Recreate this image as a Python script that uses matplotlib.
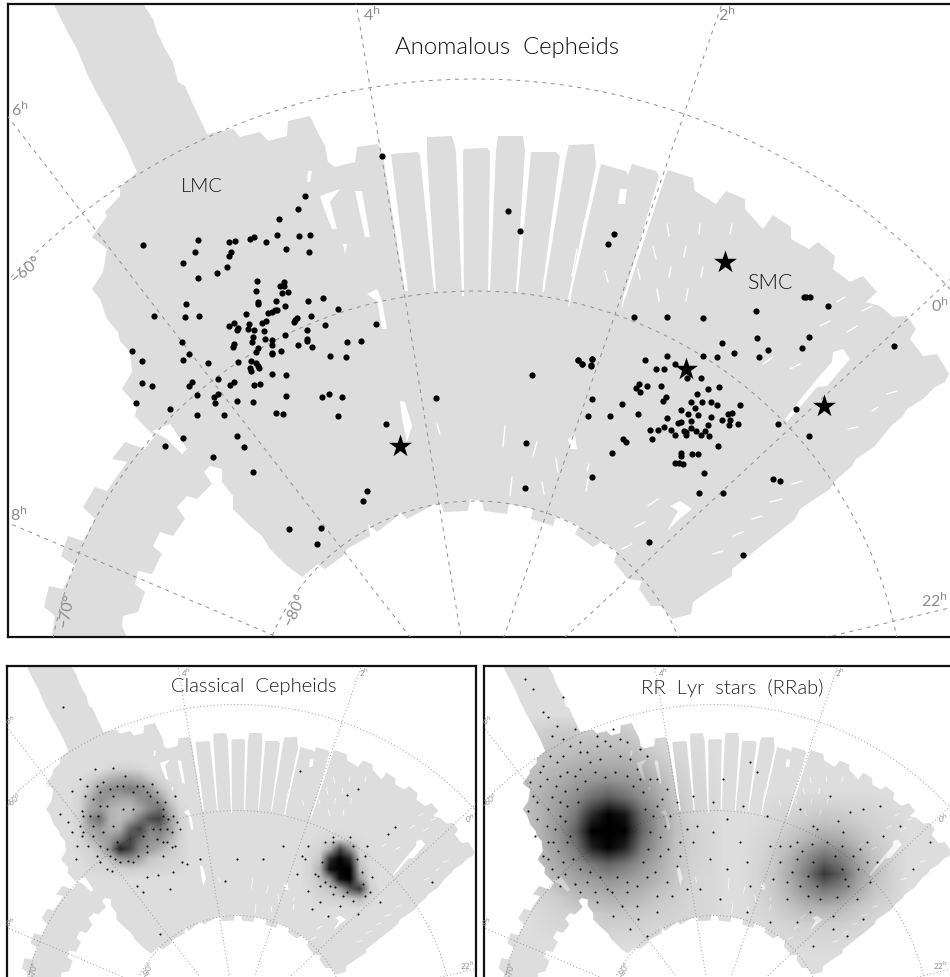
import numpy as np
import matplotlib
matplotlib.use("Agg")
import matplotlib.pyplot as plt
from matplotlib.colors import LinearSegmentedColormap
from matplotlib.patches import Polygon

W, H = 950, 978
FONT = "Lato"

# ---------- sky grid (in top-panel pixel units) ----------
POLE = (475, 722)
RA_LABELS = ["8$^{\\mathrm{h}}$", "6$^{\\mathrm{h}}$", "4$^{\\mathrm{h}}$", "2$^{\\mathrm{h}}$", "0$^{\\mathrm{h}}$", "22$^{\\mathrm{h}}$"]
RA_ANGLES = [-67, -37.7, -9.4, 19, 47.1, 76.6]
RA_LABEL_X = [19, 20, 372, 727, 940, 934]
RA_LABEL_Y = [515, 110, 15, 15, 306, 601]
DEC_RADII = [220, 430, 642]
DEC_LABELS = ["\u221280\u00b0", "\u221270\u00b0", "\u221260\u00b0"]
DEC_LABEL_X = [295, 67, 26]
DEC_LABEL_Y = [610, 610, 270]
DEC_LABEL_ROT = [65, 80, 40]

# ---------- survey footprint outline ----------
FOOT = [(55,0),(140,0),(153,20),(157,33),(165,50),(173,63),(178,83),(185,87),(192,103),(200,120),(207,135),
(233,130),(240,138),(260,133),(268,142),(287,137),(288,122),(310,117),(317,132),(325,147),(328,163),(335,168),
(355,163),(357,148),(378,145),(383,157),(405,292),(408,292),(391,155),(418,153),(420,157),(434,292),(436,292),
(427,157),(427,138),(452,137),(455,148),(456,152),(462,297),(464,297),(463,152),(464,150),(487,149),(490,152),
(488,292),(490,292),(496,152),(498,137),(523,137),(525,152),(516,293),(518,293),(531,153),(556,153),(560,157),
(542,293),(544,293),(566,158),(569,146),(594,145),(596,167),(568,300),(570,300),(601,165),(626,172),(628,176),
(632,165),(656,172),(659,177),(623,300),(625,300),(665,178),(668,171),(693,179),(695,192),(716,205),(726,192),
(745,200),(745,210),(763,230),(773,216),(791,228),(791,240),(809,250),(818,243),(835,257),(833,270),(850,283),
(863,277),(877,293),(866,303),(880,307),(893,318),(907,317),(916,330),(910,340),(923,357),(937,355),(949,375),
(945,383),(935,388),(923,400),(907,410),(903,417),(891,427),(875,447),(856,460),(852,467),(837,480),(830,490),
(800,510),(795,520),(779,533),(761,547),(732,570),(732,577),(716,587),(693,603),(691,615),(672,620),(661,607),
(651,607),(639,590),(642,582),(628,580),(614,563),(617,553),(603,542),(593,548),(575,535),(579,527),(556,517),
(553,527),(531,520),(533,510),(509,505),(507,515),(484,512),(482,502),(470,500),(468,512),(444,513),(441,505),
(435,505),(407,520),(400,513),(398,517),(377,533),(368,525),(370,537),(347,550),(343,557),(325,570),(318,565),
(302,578),(287,567),(270,550),(262,537),(250,527),(233,510),(233,497),(222,483),(222,470),(210,467),(204,473),
(212,485),(197,500),(187,497),(177,508),(185,520),(173,537),(160,533),(153,547),(162,555),(152,575),(138,572),
(135,585),(145,593),(138,613),(123,617),(122,627),(132,650),(50,650),(52,637),(55,617),(44,608),(49,587),(63,590),
(75,567),(61,557),(68,537),(83,542),(95,520),(83,508),(95,488),(107,492),(127,463),(112,460),(125,443),(145,450),
(155,437),(147,430),(135,417),(137,407),(122,390),(132,373),(130,353),(120,342),(118,333),(107,320),(100,300),
(92,290),(103,273),(107,250),(92,238),(107,217),(105,213),(120,197),(120,188),(137,173),(127,150),(113,123),
(100,100),(88,77),(77,50),(67,32),(55,8)]

# ---------- white holes in the footprint ----------
HOLES = [
 [(320,197),(340,190),(330,203),(337,230),(332,230),(323,207)],
 [(355,192),(362,192),(370,238),(365,238)],
 [(308,172),(312,172),(310,183),(307,183)],
 [(343,245),(347,245),(345,255)],
 [(367,295),(377,290),(382,302),(387,330),(382,330),(377,302)],
 [(400,402),(405,403),(412,427),(407,443),(402,420)],
 [(152,432),(170,425),(187,450),(182,455),(167,440)],
 [(833,353),(843,350),(850,360),(827,387),(817,388),(800,408),(787,423),(785,420),(803,397),(817,380),(832,363)],
 [(670,507),(680,502),(692,510),(677,522),(667,532),(678,512)],
 [(568,440),(575,437),(577,450),(570,450)],
 [(620,190),(627,190),(625,205),(618,205)],
]
# short white streaks (x0, y0, x1, y1)
STREAKS = [
 (667,225,669,237),(653,247,656,260),(686,247,684,258),(605,272,608,283),(638,270,640,280),(671,268,669,278),
 (703,268,701,278),(657,290,659,302),(688,290,686,302),(700,225,699,235),(732,225,730,235),(625,293,622,308),
 (585,220,581,243),(577,250,572,277),(572,283,569,307),(763,365,773,358),(790,370,800,365),(820,327,830,322),
 (847,333,857,327),(837,303,845,298),(862,312,872,307),(887,395,897,392),(848,430,858,428),(872,412,878,408),
 (792,485,802,482),(770,503,782,500),(752,520,762,517),(733,537,743,533),(713,555,723,552),(648,507,658,500),
 (635,528,645,523),(622,550,632,545),(505,427,503,448),(537,443,533,457),(512,478,510,497),(556,460,558,473),
 (542,483,544,495),(572,437,575,450),(437,425,440,435),(588,480,586,492),(589,465,587,472),
]

# ---------- Anomalous Cepheids ----------
# LMC side: crop units, x = 90 + X/3, y = 170 + Y/3
ACEP_LMC_CROP = [(160,229),(325,212),(314,250),(280,283),(325,327),(416,220),(434,215),(423,250),(416,260),(410,293),
(381,312),(481,210),(492,203),(528,218),(561,197),(567,150),(624,121),(645,82),(628,200),(659,198),(589,240),(658,250),
(501,336),(582,340),(571,352),(581,350),(497,366),(575,371),(593,368),(503,398),(504,406),(557,396),(586,412),(653,396),
(698,388),(743,419),(288,405),(285,445),(326,442),(191,441),(467,436),(534,433),(546,428),(555,423),(561,424),(663,441),
(620,447),(615,453),(611,460),(704,469),(859,466),(527,455),(517,463),(431,461),(416,472),(445,477),(440,484),(477,465),
(473,480),(493,484),(523,487),(651,483),(585,498),(490,505),(525,510),(547,512),(487,520),(651,510),(651,515),(771,520),
(813,517),(277,518),(431,525),(429,533),(545,529),(623,527),(667,533),(503,537),(497,550),(545,551),(547,555),(573,547),
(127,546),(296,554),(721,560),(767,565),(279,573),(156,577),(355,581),(445,580),(484,576),(498,583),(505,590),(506,596),
(481,597),(482,607),(546,615),(588,618),(384,630),(307,638),(297,650),(157,642),(187,652),(433,640),(421,648),(493,649),
(510,646),(321,679),(383,676),(373,685),(374,702),(441,696),(488,699),(589,681),(697,683),(718,675),(756,685),(137,702),
(240,719),(321,739),(402,737),(558,733),(579,736),(744,740),(888,765),(278,808),(224,831),(442,802),(463,835),(370,864)]
# SMC side: crop units, x = 560 + X/3, y = 220 + Y/3
ACEP_SMC_CROP = [(161,44),(145,76),(738,233),(750,233),(733,235),(805,261),(588,275),(222,295),(320,293),(428,296),(487,371),
(592,357),(748,355),(727,386),(624,392),(597,413),(521,403),(472,414),(428,411),(321,411),(254,424),(53,424),(66,436),
(97,420),(93,439),(344,434),(288,450),(313,450),(382,478),(422,478),(236,495),(228,506),(241,518),(262,502),(302,500),
(443,510),(478,503),(411,525),(318,534),(309,546),(95,541),(185,554),(393,550),(427,549),(452,550),(472,558),(539,557),
(406,566),(364,572),(85,591),(150,590),(234,584),(385,584),(415,587),(454,595),(517,582),(505,586),(322,597),(485,603),
(511,604),(507,618),(535,615),(392,605),(362,610),(354,612),(445,618),(313,623),(269,634),(293,634),(333,632),(394,628),
(407,635),(372,636),(377,640),(379,647),(345,649),(435,637),(423,648),(448,652),(275,660),(188,661),(198,668),(473,681),
(156,702),(364,703),(363,710),(396,704),(414,705),(345,731),(357,731),(369,735),(95,775),(432,761),(416,822),(489,821),
(640,780),(660,786),(748,650),(653,614),(708,570),(266,968),(550,1009),(1002,381)]
# remaining points, panel units
ACEP_OTHER_X = [382, 253, 367, 363, 289, 321, 317, 436, 532, 526, 525, 508, 520, 578, 582, 592, 591]
ACEP_OTHER_Y = [157, 473, 492, 502, 530, 529, 545, 399, 376, 444, 489, 212, 232, 361, 365, 360, 367]
STAR_X = [725, 686, 824, 400]
STAR_Y = [263, 370, 407, 447]

# ---------- density (0 = none, 1 = solid black) ----------
# Classical Cepheids, crop units of the lower-left panel
CC_LMC_X = [240,270,300,330,360,390,420,450,480,510,540]
CC_LMC_Y = [420,450,480,510,540,570,600,630,660,690,720]
CC_LMC = [
 [0,0,0,.03,.05,.05,.03,0,0,0,0],
 [0,.05,.12,.2,.25,.25,.2,.1,.03,0,0],
 [.03,.12,.3,.38,.4,.45,.4,.3,.12,.03,0],
 [.05,.2,.35,.3,.25,.25,.35,.4,.3,.08,0],
 [.05,.25,.3,.2,.15,.15,.25,.4,.5,.2,.03],
 [.06,.35,.5,.2,.15,.25,.45,.65,.7,.3,.05],
 [.05,.25,.3,.2,.22,.55,.7,.4,.45,.3,.05],
 [.03,.15,.25,.3,.45,.7,.5,.35,.35,.2,.05],
 [.02,.05,.15,.35,.85,.7,.4,.3,.2,.1,.04],
 [0,.03,.06,.12,.3,.35,.25,.1,.06,.05,.04],
 [0,.02,.03,.04,.05,.08,.06,.05,.04,.03,.02]]
CC_SMC_X = [930,960,990,1020,1050,1080,1110]
CC_SMC_Y = [630,660,690,720,750,780,810]
CC_SMC = [
 [0,.02,.03,.03,.02,.01,0],
 [.02,.05,.2,.7,.35,.03,.01],
 [.03,.1,.8,1,.8,.08,.01],
 [.04,.2,.95,1,1,.15,.02],
 [.03,.12,.35,.95,1,.3,.03],
 [.02,.06,.1,.25,.6,.75,.08],
 [0,.03,.05,.06,.1,.15,.03]]
CC_SPARSE = [(190,235),(285,420),(340,418),(375,440),(215,485),(240,450),(260,470),(455,465),(470,490),(495,520),(525,500),
(520,560),(540,600),(525,650),(515,655),(560,705),(545,700),(520,730),(475,738),(440,745),(410,770),(335,725),(320,720),
(345,690),(300,700),(228,690),(230,650),(215,610),(205,580),(180,555),(245,545),(240,590),(250,610),(510,780),(430,790),
(480,915),(600,690),(710,690),(790,690),(850,650),(675,755),(900,425),(1075,480),(1040,497),(925,650),(915,690),(890,735),
(925,785),(935,840),(985,860),(1075,855),(1140,820),(1100,650),(1185,595),(1165,615),(1110,790),(1295,760),(960,820),
(1020,830),(1060,815),(1000,795),(960,770),(975,640),(1000,625),(1050,625),(1095,680),(1115,745),(905,680),(945,735),
(990,770),(290,470),(310,460),(350,470),(400,490),(430,470),(450,500),(490,560),(500,600),(470,630),(490,640),(440,670),
(400,700),(360,700),(320,660),(280,620),(270,560),(280,510),(300,530),(340,590),(370,540),(400,540),(310,610),(350,640),
(430,620),(460,600),(300,490),(330,480),(370,470),(410,470),(440,490),(470,520),(490,540),(505,570),(480,600),(440,650),
(415,680),(385,695),(330,680),(300,650),(280,590),(295,560),(320,530),(340,500),(250,560),(255,500),(245,620),(265,650),
(290,680),(500,640),(490,680),(515,610),(530,580),(1000,640),(965,700),(955,740),(975,760),(1005,775),(1040,790),
(1090,765),(1085,730),(1070,690),(1060,650),(1095,800),(1030,800)]

# RR Lyr stars, crop units of the lower-right panel
RR_LMC_X = [135,185,235,285,335,385,435,485,535,585,635,685]
RR_LMC_Y = [305,355,405,455,505,555,605,655,705,755,805,855,905]
RR_LMC = [
 [.04,.06,.08,.08,.08,.09,.08,.06,.03,.01,0,0],
 [.07,.1,.12,.13,.15,.15,.14,.1,.05,.02,.01,.01],
 [.1,.14,.16,.2,.22,.22,.22,.18,.1,.05,.02,.01],
 [.14,.17,.22,.28,.32,.35,.32,.28,.18,.08,.03,.02],
 [.14,.2,.28,.36,.5,.6,.5,.36,.24,.1,.04,.02],
 [.12,.2,.3,.45,.8,1,.9,.5,.3,.13,.05,.02],
 [.1,.2,.33,.55,1,1,1,.55,.3,.14,.06,.03],
 [.06,.18,.3,.45,.85,1,.85,.45,.28,.13,.06,.03],
 [.04,.15,.25,.33,.45,.55,.45,.33,.22,.12,.05,.03],
 [.02,.08,.18,.24,.28,.32,.28,.24,.18,.1,.04,.02],
 [0,.04,.08,.14,.18,.2,.2,.16,.1,.07,.03,.02],
 [0,.02,.04,.06,.08,.1,.1,.08,.06,.05,.03,.02],
 [0,.01,.02,.03,.05,.05,.04,.04,.03,.03,.02,.02]]
RR_SMC_X = [830,880,930,980,1030,1080,1130,1180,1230]
RR_SMC_Y = [535,585,635,685,735,785,835,885,935]
RR_SMC = [
 [0,.02,.03,.05,.06,.05,.04,.03,.01],
 [.01,.03,.06,.1,.13,.12,.08,.05,.03],
 [.02,.06,.12,.2,.26,.24,.16,.08,.04],
 [.03,.09,.2,.36,.5,.42,.26,.12,.05],
 [.04,.1,.24,.45,.75,.58,.3,.14,.06],
 [.03,.09,.2,.34,.45,.38,.24,.11,.05],
 [.02,.06,.12,.18,.2,.18,.1,.06,.03],
 [.01,.03,.05,.06,.06,.06,.05,.03,.01],
 [0,.01,.02,.02,.03,.02,.02,.01,0]]
RR_SPARSE = [(160,180),(205,265),(215,320),(250,205),(135,150),(190,250),(230,290),(285,300),(350,320),(400,300),(440,340),
(320,370),(270,350),(230,400),(190,410),(150,460),(180,470),(240,440),(300,420),(360,390),(420,380),(470,420),(500,380),
(530,450),(560,480),(590,520),(620,600),(640,640),(600,640),(570,560),(545,510),(145,545),(170,520),(200,590),(190,680),
(220,640),(240,560),(250,700),(270,620),(295,520),(290,480),(240,770),(300,790),(350,820),(400,860),(450,900),(470,830),
(530,800),(560,760),(590,710),(620,780),(500,920),(380,780),(440,760),(330,730),(650,590),(700,610),(740,570),(780,640),
(690,690),(740,720),(800,700),(660,780),(720,810),(810,770),(870,650),(860,560),(790,530),(700,520),(640,500),(830,430),
(730,450),(810,400),(1000,590),(1090,610),(1160,640),(1190,700),(1110,550),(950,640),(900,700),(880,750),(920,810),
(990,850),(1060,860),(1130,810),(1170,760),(1210,620),(1050,500),(960,540),(1150,540),(1200,530),(1060,900),(1000,950),
(1100,920),(950,880),(1150,870),(870,880),(800,850),(1300,720),(1350,640),(1260,590),
(200,450),(215,505),(228,470),(255,485),(262,530),(240,520),(205,540),(255,575),(225,600),(262,640),(235,665),(205,640),
(280,690),(255,735),(215,720),(300,720),(320,760),(285,765),(360,745),(410,745),(395,790),(440,790),(470,770),(500,745),
(490,700),(525,730),(540,680),(505,660),(565,660),(540,625),(510,610),(555,590),(520,560),(495,540),(530,530),(490,490),
(460,470),(510,450),(480,450),(440,440),(405,430),(375,445),(345,430),(315,455),(285,440),(260,430),(330,400),(390,350),
(350,350),(300,370),(250,380),(210,380),(450,390),(480,360),(420,330),(375,335),(300,340),(250,330),(180,430),(160,500),
(170,570),(165,620),(205,690),(235,745),(345,790),(425,830),(475,870),(530,850),(575,800),(600,680),
(950,690),(935,730),(960,770),(985,800),(1020,810),(1070,805),(1105,770),(1135,720),(1120,680),(1085,650),(1040,640),
(995,645),(965,665),(920,760),(1000,700),(985,740),(1010,770),(1085,720),(1095,750),(1065,680),(1160,700),(1140,660),
(1010,600),(1075,575),(930,650),(900,650)]

DARK = LinearSegmentedColormap.from_list("dark", [(0, 0, 0, 0), (0, 0, 0, 1)])


def make_axes(fig, left, top, right, bottom, xlim, ylim, frame_lw):
    ax = fig.add_axes([left / W, 1 - bottom / H, (right - left) / W, (bottom - top) / H])
    ax.set_xlim(*xlim)
    ax.set_ylim(*ylim)
    ax.set_xticks([])
    ax.set_yticks([])
    for s in ax.spines.values():
        s.set_linewidth(frame_lw)
        s.set_color("#111111")
    return ax


def draw_base(ax, scale, grid_style, grid_color, grid_lw, label_dx=0):
    foot = Polygon(FOOT, closed=True, fc="#dddddd", ec="none", zorder=1)
    ax.add_patch(foot)
    for h in HOLES:
        ax.add_patch(Polygon(h, closed=True, fc="white", ec="none", zorder=2))
    for x0, y0, x1, y1 in STREAKS:
        ax.plot([x0, x1], [y0, y1], color="white", lw=1.0 * scale, zorder=2, solid_capstyle="round")
    t = np.linspace(0, 2 * np.pi, 721)
    for r in DEC_RADII:
        ax.plot(POLE[0] + r * np.cos(t), POLE[1] + r * np.sin(t), color=grid_color, lw=grid_lw, ls=grid_style, zorder=3)
    for a in RA_ANGLES:
        rad = np.radians(a)
        ax.plot([POLE[0], POLE[0] + 1100 * np.sin(rad)], [POLE[1], POLE[1] - 1100 * np.cos(rad)],
                color=grid_color, lw=grid_lw, ls=grid_style, zorder=3)
    for s, x, y in zip(RA_LABELS, RA_LABEL_X, RA_LABEL_Y):
        dx = label_dx if x > 900 else 0
        ax.text(x + dx, y, s, color="#8c8c8c", fontsize=11.5 * scale, ha="center", va="center", family=FONT, zorder=4,
                math_fontfamily="dejavusans")
    for s, x, y, rot in zip(DEC_LABELS, DEC_LABEL_X, DEC_LABEL_Y, DEC_LABEL_ROT):
        ax.text(x, y, s, color="#8c8c8c", fontsize=11.5 * scale, ha="center", va="center", rotation=rot,
                family=FONT, zorder=4)
    return foot


def shade(ax, foot, xs, ys, table, to_x, to_y):
    xs, ys = np.asarray(xs, float), np.asarray(ys, float)
    dx, dy = xs[1] - xs[0], ys[1] - ys[0]
    xl, yl = ax.get_xlim(), ax.get_ylim()
    padded = np.pad(np.array(table, float), 1)
    im = ax.imshow(padded, cmap=DARK, vmin=0, vmax=1, aspect="auto", interpolation="bilinear",
                   extent=[to_x(xs[0] - 1.5 * dx), to_x(xs[-1] + 1.5 * dx), to_y(ys[-1] + 1.5 * dy), to_y(ys[0] - 1.5 * dy)],
                   zorder=5)
    im.set_clip_path(foot)
    ax.set_xlim(*xl)
    ax.set_ylim(*yl)


fig = plt.figure(figsize=(W / 100, H / 100), dpi=100)
fig.patch.set_facecolor("white")

# ---- top panel
ax = make_axes(fig, 8, 5, 953, 638, (8, 953), (638, 5), 1.6)
draw_base(ax, 1.0, (0, (4, 5)), "#8f8f8f", 0.7)
lmc = np.array(ACEP_LMC_CROP, float)
smc = np.array(ACEP_SMC_CROP, float)
ax.scatter(90 + lmc[:, 0] / 3, 170 + lmc[:, 1] / 3, s=20, c="black", lw=0, zorder=6)
ax.scatter(560 + smc[:, 0] / 3, 220 + smc[:, 1] / 3, s=20, c="black", lw=0, zorder=6)
ax.scatter(ACEP_OTHER_X, ACEP_OTHER_Y, s=20, c="black", lw=0, zorder=6)
ax.scatter(STAR_X, STAR_Y, s=300, c="black", marker="*", lw=0, zorder=7)
ax.text(507, 48, "Anomalous  Cepheids", fontsize=17.2, ha="center", va="center", family=FONT, weight=300,
        color="#111111", zorder=8)
ax.text(202, 187, "LMC", fontsize=14.5, ha="center", va="center", family=FONT, weight=300, color="#111111", zorder=8)
ax.text(770, 283, "SMC", fontsize=15.5, ha="center", va="center", family=FONT, weight=300, color="#111111", zorder=8)

# ---- lower-left panel: x_px = x/2, y_px = 665.5 + y/2
ax = make_axes(fig, 7, 667, 476, 990, (14, 952), (649, 3), 1.6)
foot = draw_base(ax, 0.5, (0, (1, 2.5)), "#9a9a9a", 0.7)
left_x = lambda X: np.asarray(X, float) * 2 / 3
low_y = lambda Y: np.asarray(Y, float) * 2 / 3 - 71
shade(ax, foot, CC_LMC_X, CC_LMC_Y, CC_LMC, left_x, low_y)
shade(ax, foot, CC_SMC_X, CC_SMC_Y, CC_SMC, left_x, low_y)
p = np.array(CC_SPARSE, float)
ax.scatter(left_x(p[:, 0]), low_y(p[:, 1]), s=2.2, c="black", lw=0, zorder=6)
ax.text(254 * 2, (687 - 665.5) * 2, "Classical  Cepheids", fontsize=14.6, ha="center", va="center", family=FONT,
        weight=300, color="#222222", zorder=8)

# ---- lower-right panel: x_px = 476.7 + x/2
ax = make_axes(fig, 484, 667, 953, 990, (14.6, 952.6), (649, 3), 1.6)
foot = draw_base(ax, 0.5, (0, (1, 2.5)), "#9a9a9a", 0.7, label_dx=-7)
right_x = lambda X: np.asarray(X, float) * 2 / 3 + 6.6
shade(ax, foot, RR_LMC_X, RR_LMC_Y, RR_LMC, right_x, low_y)
shade(ax, foot, RR_SMC_X, RR_SMC_Y, RR_SMC, right_x, low_y)
p = np.array(RR_SPARSE, float)
ax.scatter(right_x(p[:, 0]), low_y(p[:, 1]), s=2.2, c="black", lw=0, zorder=6)
ax.text((732 - 476.7) * 2, (688 - 665.5) * 2, "RR  Lyr  stars  (RRab)", fontsize=14.6, ha="center", va="center",
        family=FONT, weight=300, color="#222222", zorder=8)

fig.savefig("out.png", dpi=100)
